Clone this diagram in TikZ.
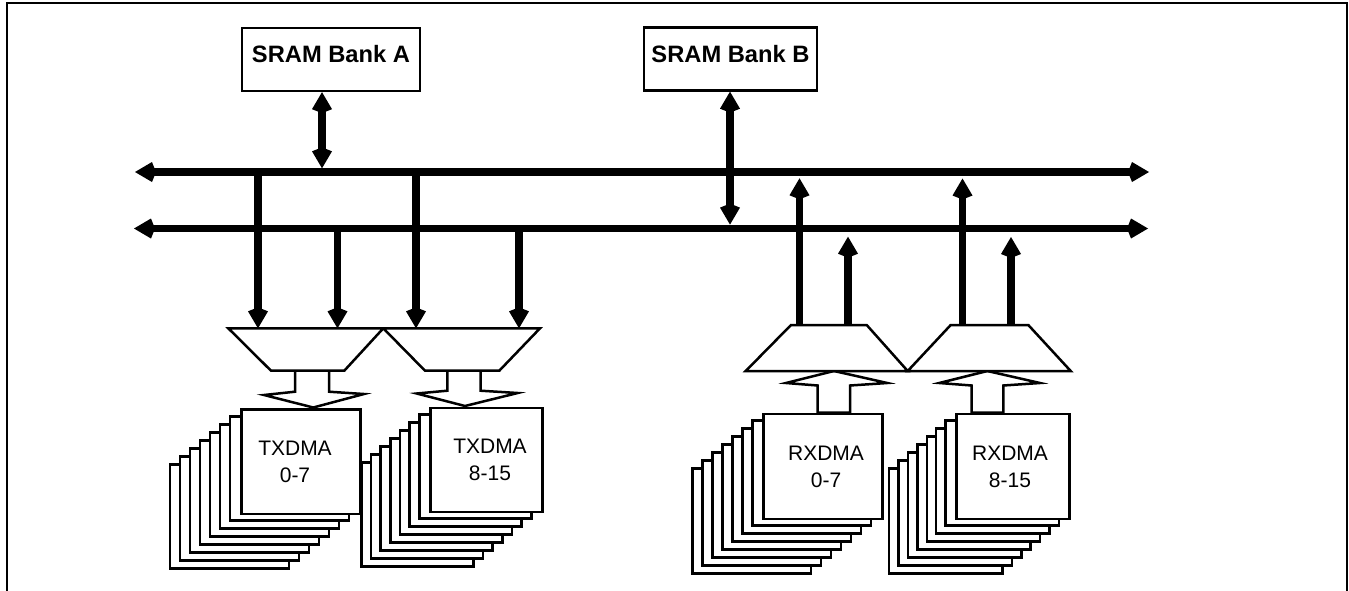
\documentclass[tikz,border=0pt]{standalone}
\usepackage{fontspec}
\setmainfont{Liberation Sans}
\usetikzlibrary{arrows.meta,calc}

\newcommand\DmaStack[6]{%
  \foreach \k in {7,6,...,1}{%
    \draw[thinline,fill=white] ({#2-\k*#6},{#3+\k*8}) rectangle ++(#4,#5);}
  \node[thinline,draw,fill=white,inner sep=0pt,minimum width=#4pt,minimum height=#5pt,anchor=north west] (#1) at (#2,#3) {};
}

\begin{document}
\begin{tikzpicture}[x=1pt,y=-1pt,
  thinline/.style={line width=2.5pt},
  bus/.style={line width=7.5pt},
  >={Kite[length=21pt,width=20pt,inset=4pt,line width=0pt]},
  bank/.style={draw,line width=2.3pt,inner sep=0pt,minimum height=63pt,
    font=\fontsize{23.7}{28}\selectfont\bfseries,text height=17pt,text depth=11pt},
  dmatext/.style={align=center,inner sep=0pt,font=\fontsize{21}{27}\selectfont},
  hollow/.style={thinline,fill=white,line join=miter},
  mux/.style={thinline,fill=white}
]
\useasboundingbox (0,0) rectangle (1349,590);
% frame
\draw[line width=2.5pt] (7,600) -- (7,3) -- (1347,3) -- (1347,600);

% SRAM banks
\node[bank,minimum width=178pt] (bankA) at (331,59.5) {SRAM Bank A};
\node[bank,minimum width=173pt] (bankB) at (730.5,59) {SRAM Bank B};

% buses
\coordinate (b1L) at (135,172);
\coordinate (b1R) at (1149,172);
\coordinate (b2L) at (134,228.5);
\coordinate (b2R) at (1148,228.5);
\draw[bus,<->] (b1L) -- (b1R);
\draw[bus,<->] (b2L) -- (b2R);

% bank connections
\coordinate (aBus) at (322,168.3);
\coordinate (bBus) at (730,224.6);
\draw[bus,<->] ([xshift=-9pt]bankA.south) -- (aBus);
\draw[bus,<->] ([xshift=-0.5pt]bankB.south) -- (bBus);

% DMA stacks
\DmaStack{tx07}{240}{408.3}{119}{104.4}{10}
\DmaStack{tx815}{429}{406.7}{112}{104}{9.67}
\DmaStack{rx07}{762.3}{412.7}{118.7}{105}{10}
\DmaStack{rx815}{955}{412.7}{113.3}{105}{9.4}

\node[dmatext] (tx07t) at (295,461.5) {TXDMA\\0-7};
\node[dmatext] (tx815t) at (490,460) {TXDMA\\8-15};
\node[dmatext] (rx07t) at (826,467) {RXDMA\\0-7};
\node[dmatext] (rx815t) at (1010,467) {RXDMA\\8-15};

% hollow arrows
\draw[hollow] (295,370.7) -- (295,391.7) -- (264,395) -- (313.3,407.5) -- (364,394) -- (329,391.7) -- (329,370.7) -- cycle;
\draw[hollow] (447.3,370.7) -- (447.3,390.7) -- (416.7,393.5) -- (465,406) -- (517.7,393) -- (480.7,390.7) -- (480.7,370.7) -- cycle;
\draw[hollow] (817.7,412.7) -- (817.7,385.5) -- (786,383) -- (834,371) -- (887.3,383) -- (850,385.5) -- (850,412.7) -- cycle;
\draw[hollow] (971.7,412.7) -- (971.7,385.5) -- (939.3,383) -- (987.3,371) -- (1040,383) -- (1003.3,385.5) -- (1003.3,412.7) -- cycle;

% multiplexers
\coordinate (txA1) at (228.3,328.3); \coordinate (txA2) at (383.3,328.3);
\coordinate (txA3) at (344.3,370.7); \coordinate (txA4) at (271,370.7);
\coordinate (txB1) at (383.3,328.3); \coordinate (txB2) at (540,328.3);
\coordinate (txB3) at (499.3,370.7); \coordinate (txB4) at (425,370.7);
\coordinate (rxA1) at (791,325); \coordinate (rxA2) at (866.7,325);
\coordinate (rxA3) at (907.7,371); \coordinate (rxA4) at (745.7,371);
\coordinate (rxB1) at (950.7,325); \coordinate (rxB2) at (1028.3,325);
\coordinate (rxB3) at (1070.7,371); \coordinate (rxB4) at (907.7,371);
\draw[mux] (txA1) -- (txA2) -- (txA3) -- (txA4) -- cycle;
\draw[mux] (txB1) -- (txB2) -- (txB3) -- (txB4) -- cycle;
\draw[mux] (rxA1) -- (rxA2) -- (rxA3) -- (rxA4) -- cycle;
\draw[mux] (rxB1) -- (rxB2) -- (rxB3) -- (rxB4) -- cycle;

% TX drops
\draw[bus,->] (258,172) -- (258,0 |- txA1);
\draw[bus,->] (337.5,228.5) -- (337.5,0 |- txA1);
\draw[bus,->] (416,172) -- (416,0 |- txB1);
\draw[bus,->] (519,228.5) -- (519,0 |- txB1);

% RX rises
\draw[bus,->] (799.5,0 |- rxA1) -- (799.5,178.3);
\draw[bus,->] (848,0 |- rxA1) -- (848,236.7);
\draw[bus,->] (962.5,0 |- rxB1) -- (962.5,178.5);
\draw[bus,->] (1011,0 |- rxB1) -- (1011,237);
\end{tikzpicture}
\end{document}
